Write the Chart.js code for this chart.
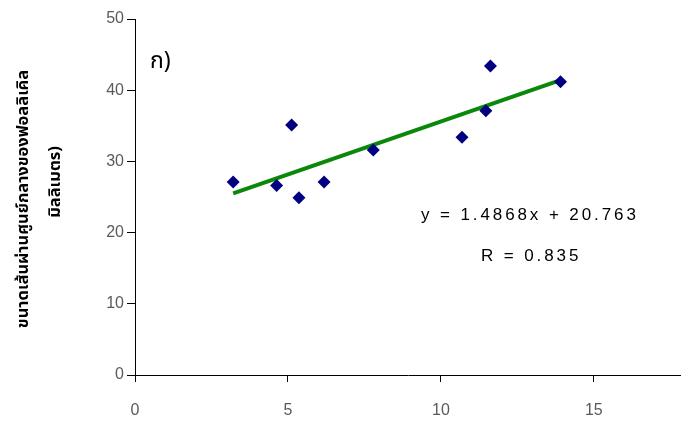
<!DOCTYPE html>
<html><head><meta charset="utf-8">
<script src="https://cdn.jsdelivr.net/npm/chart.js@4"></script>
<style>html,body{margin:0;padding:0;background:#fff;overflow:hidden}</style>
</head><body>
<canvas id="c" width="681" height="424"></canvas>
<script>
// ---- data ----
const xValues = [3.21, 4.63, 5.12, 5.36, 6.18, 7.79, 10.69, 11.47, 11.62, 13.91];
const yValues = [27.1, 26.6, 35.1, 24.9, 27.1, 31.6, 33.4, 37.1, 43.4, 41.2];
const trendX = [3.21, 13.91];
const trendY = [25.5, 41.4];
const xTicks = [0, 5, 10, 15];
const yTicks = [0, 10, 20, 30, 40, 50];
const yTitleLines = ['ขนาดเส้นผ่านศูนย์กลางของฟอลลิเคิล', 'มิลลิเมตร)'];
const panelLabel = 'ก)';
const equationText = 'y = 1.4868x + 20.763';
const rText = 'R = 0.835';

const pts = xValues.map((x, i) => ({x: x, y: yValues[i]}));
const trend = trendX.map((x, i) => ({x: x, y: trendY[i]}));

const FONT = '"Liberation Sans", Arial, sans-serif';
const THAI = '"Noto Sans Thai", "Tahoma", "Noto Sans", "DejaVu Sans", sans-serif';

const textPlugin = {
  id: 'texts',
  afterDraw(chart) {
    const ctx = chart.ctx;
    ctx.save();
    ctx.fillStyle = '#000';
    ctx.textAlign = 'left';
    ctx.textBaseline = 'alphabetic';
    ctx.font = '23px ' + THAI;
    ctx.fillText(panelLabel, 150, 68);
    ctx.font = '17px ' + FONT;
    ctx.letterSpacing = '2.9px';
    ctx.fillText(equationText, 421, 220);
    ctx.fillText(rText, 481, 261);
    ctx.letterSpacing = '0px';
    ctx.font = 'bold 16.5px ' + THAI;
    ctx.textAlign = 'center';
    ctx.textBaseline = 'middle';
    ctx.save();
    ctx.translate(25, 199);
    ctx.rotate(-Math.PI / 2);
    ctx.fillText(yTitleLines[0], 0, 0);
    ctx.restore();
    ctx.save();
    ctx.translate(57, 182);
    ctx.rotate(-Math.PI / 2);
    ctx.fillText(yTitleLines[1], 0, 0);
    ctx.restore();
    ctx.restore();
  }
};

new Chart(document.getElementById('c'), {
  type: 'scatter',
  data: {
    datasets: [
      {
        data: pts,
        pointStyle: 'rectRot',
        pointRadius: 6.5,
        pointHoverRadius: 6.5,
        backgroundColor: '#000080',
        borderColor: '#000080',
        borderWidth: 0,
        order: 1
      },
      {
        type: 'line',
        data: trend,
        showLine: true,
        borderColor: '#0a880a',
        borderWidth: 4,
        pointRadius: 0,
        fill: false,
        order: 2
      }
    ]
  },
  options: {
    responsive: false,
    animation: false,
    events: [],
    layout: {autoPadding: false, padding: {top: 19, left: 0, right: 0, bottom: 0}},
    plugins: {legend: {display: false}, tooltip: {enabled: false}},
    scales: {
      x: {
        type: 'linear',
        min: 0,
        max: 17.85,
        afterBuildTicks: s => { s.ticks = xTicks.map(v => ({value: v})); },
        afterFit: s => { s.height = 49; s.paddingRight = 0; s.paddingLeft = 0; },
        grid: {drawOnChartArea: false, drawTicks: true, tickLength: 7, color: '#000'},
        border: {color: '#000', width: 1},
        ticks: {color: '#5a5a5a', font: {family: FONT, size: 16}, padding: 19, maxRotation: 0}
      },
      y: {
        type: 'linear',
        min: 0,
        max: 50,
        afterBuildTicks: s => { s.ticks = yTicks.map(v => ({value: v})); },
        afterFit: s => { s.width = 135; s.paddingTop = 0; s.paddingBottom = 0; },
        grid: {drawOnChartArea: false, drawTicks: true, tickLength: 8, color: '#000'},
        border: {color: '#000', width: 1},
        ticks: {color: '#5a5a5a', font: {family: FONT, size: 16}, padding: 3}
      }
    }
  },
  plugins: [textPlugin]
});
</script>
</body></html>
